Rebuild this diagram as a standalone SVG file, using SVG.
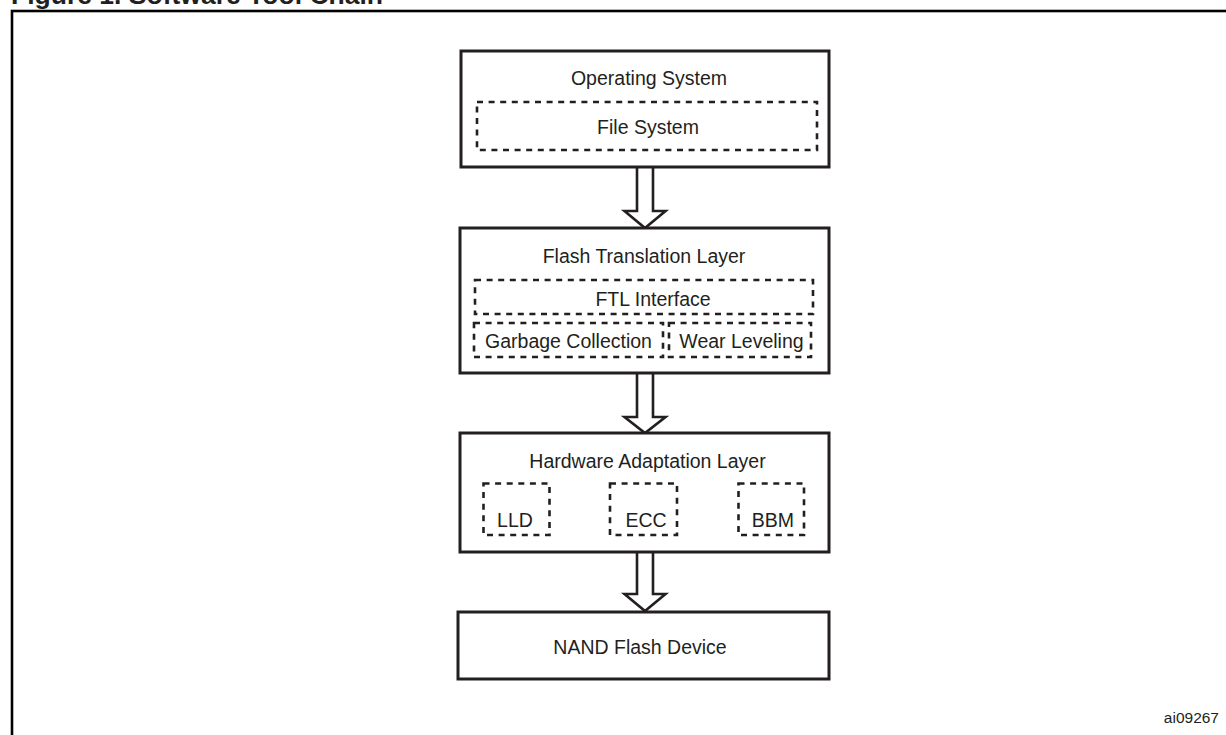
<svg xmlns="http://www.w3.org/2000/svg" width="1226" height="735" viewBox="0 0 1226 735">
<style>
  text { font-family: "Liberation Sans", Arial, sans-serif; fill: #231f20; }
  .lbl { font-size: 19.5px; text-anchor: middle; }
  .box { fill: #ffffff; stroke: #231f20; stroke-width: 3; }
  .dash { fill: none; stroke: #231f20; stroke-width: 2.6; stroke-dasharray: 6 5.6; }
  .arrow { fill: #ffffff; stroke: #231f20; stroke-width: 2.6; stroke-linejoin: miter; }
</style>
<rect x="0" y="0" width="1226" height="735" fill="#ffffff"/>
<text x="11" y="4" font-size="26.5" font-weight="bold">Figure 1. Software Tool Chain</text>
<rect x="12" y="11" width="1222" height="740" fill="none" stroke="#000000" stroke-width="2.6"/>

<g id="connectors">
  <path class="arrow" d="M637,167 L637,211 L624.5,211 L645,228 L665.5,211 L653,211 L653,167"/>
  <path class="arrow" d="M637,373 L637,417 L624.5,417 L645,433 L665.5,417 L653,417 L653,373"/>
  <path class="arrow" d="M637,553 L637,594 L624.5,594 L645,611 L665.5,594 L653,594 L653,553"/>
</g>

<g id="os">
  <rect class="box" x="461" y="51" width="368" height="116"/>
  <text class="lbl" x="649" y="85">Operating System</text>
  <g id="fs">
    <rect class="dash" x="477" y="102" width="340" height="48"/>
    <text class="lbl" x="648" y="134">File System</text>
  </g>
</g>

<g id="ftl">
  <rect class="box" x="460" y="228" width="369" height="145"/>
  <text class="lbl" x="644" y="263">Flash Translation Layer</text>
  <g id="ftl-interface">
    <rect class="dash" x="475" y="280" width="338" height="34"/>
    <text class="lbl" x="653" y="306">FTL Interface</text>
  </g>
  <g id="gc">
    <rect class="dash" x="474" y="323" width="189" height="34"/>
    <text class="lbl" x="568.5" y="348">Garbage Collection</text>
  </g>
  <g id="wl">
    <rect class="dash" x="669" y="323" width="142" height="34"/>
    <text class="lbl" x="741.5" y="348">Wear Leveling</text>
  </g>
</g>

<g id="hal">
  <rect class="box" x="460" y="433" width="369" height="119"/>
  <text class="lbl" x="647.5" y="468">Hardware Adaptation Layer</text>
  <g id="lld">
    <rect class="dash" x="483.5" y="483.5" width="66" height="51.5"/>
    <text class="lbl" x="515" y="527">LLD</text>
  </g>
  <g id="ecc">
    <rect class="dash" x="610" y="483.5" width="67" height="51.5"/>
    <text class="lbl" x="646" y="527">ECC</text>
  </g>
  <g id="bbm">
    <rect class="dash" x="738.5" y="483.5" width="65.5" height="51.5"/>
    <text class="lbl" x="773" y="527">BBM</text>
  </g>
</g>

<g id="nand">
  <rect class="box" x="458" y="612" width="371" height="67"/>
  <text class="lbl" x="640" y="654">NAND Flash Device</text>
</g>

<text x="1219" y="723" font-size="15.5" text-anchor="end">ai09267</text>
</svg>
